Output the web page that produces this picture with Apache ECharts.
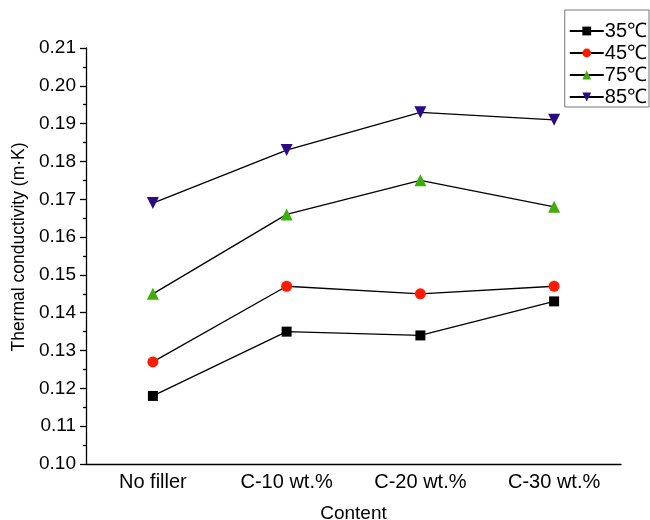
<!DOCTYPE html>
<html><head><meta charset="utf-8">
<script src="https://cdn.jsdelivr.net/npm/echarts@6/dist/echarts.min.js"></script>
<style>html,body{margin:0;padding:0;background:#fff}#c{width:650px;height:520px}</style>
</head><body><div id="c"></div>
<script>
const categories = ['No filler', 'C-10 wt.%', 'C-20 wt.%', 'C-30 wt.%'];
const s35 = [0.118, 0.135, 0.134, 0.143];
const s45 = [0.127, 0.147, 0.145, 0.147];
const s75 = [0.145, 0.166, 0.175, 0.168];
const s85 = [0.169, 0.183, 0.193, 0.191];
const seriesNames = ['35℃', '45℃', '75℃', '85℃'];
const yTicks = {min: 0.10, max: 0.21, interval: 0.01};

const font = 'Liberation Sans, Arial, Helvetica, sans-serif';
const chart = echarts.init(document.getElementById('c'));
function mk(name, data, symbol, color, size) {
  return {
    name, type: 'line', data, symbol, symbolSize: size,
    lineStyle: {color: '#000', width: 1.3},
    itemStyle: {color: color},
    emphasis: {disabled: true},
    animation: false
  };
}
chart.setOption({
  animation: false,
  grid: {left: 86, right: 29, top: 48, bottom: 56, outerBoundsMode: 'none', containLabel: false},
  legend: {
    orient: 'vertical', right: 1, top: 10,
    data: seriesNames,
    itemWidth: 34, itemHeight: 11, itemGap: 2,
    borderColor: '#777', borderWidth: 1, padding: [11, 2, 0, 4],
    textStyle: {fontFamily: font, fontSize: 20, color: '#000', padding: [0, 0, 0, -4]}
  },
  xAxis: [{
    type: 'category', data: categories, boundaryGap: true,
    name: 'Content', nameLocation: 'middle', nameGap: 40,
    nameTextStyle: {fontFamily: font, fontSize: 19, color: '#000'},
    axisLine: {lineStyle: {color: '#000', width: 1.3}},
    axisTick: {alignWithLabel: true, length: 6, lineStyle: {color: '#000', width: 1.3}},
    axisLabel: {fontFamily: font, fontSize: 20, color: '#000', margin: 8},
    splitLine: {show: false}
  }, {
    type: 'category', data: categories, boundaryGap: true, position: 'bottom',
    axisLine: {show: false},
    axisTick: {alignWithLabel: false, length: 4, lineStyle: {color: '#000', width: 1.3}},
    axisLabel: {show: false}, splitLine: {show: false}
  }],
  yAxis: {
    type: 'value', min: yTicks.min, max: yTicks.max, interval: yTicks.interval,
    name: 'Thermal conductivity (m·K)', nameLocation: 'middle', nameGap: 50,
    nameTextStyle: {fontFamily: font, fontSize: 17.5, color: '#000', padding: [0, 0, 0, 18]},
    axisLine: {show: true, lineStyle: {color: '#000', width: 1.3}},
    axisTick: {show: true, length: 6, lineStyle: {color: '#000', width: 1.3}},
    minorTick: {show: true, splitNumber: 2, length: 3, lineStyle: {color: '#000', width: 1.3}},
    axisLabel: {fontFamily: font, fontSize: 19, color: '#000', margin: 10,
      formatter: v => v.toFixed(2)},
    splitLine: {show: false}
  },
  series: [
    mk(seriesNames[0], s35, 'rect', '#000000', 10),
    mk(seriesNames[1], s45, 'circle', '#ff1a00', 11),
    mk(seriesNames[2], s75, 'triangle', '#3fae0a', 12),
    mk(seriesNames[3], s85, 'path://M0,0 L10,0 L5,9 Z', '#2a0a86', 12)
  ]
});
</script></body></html>
